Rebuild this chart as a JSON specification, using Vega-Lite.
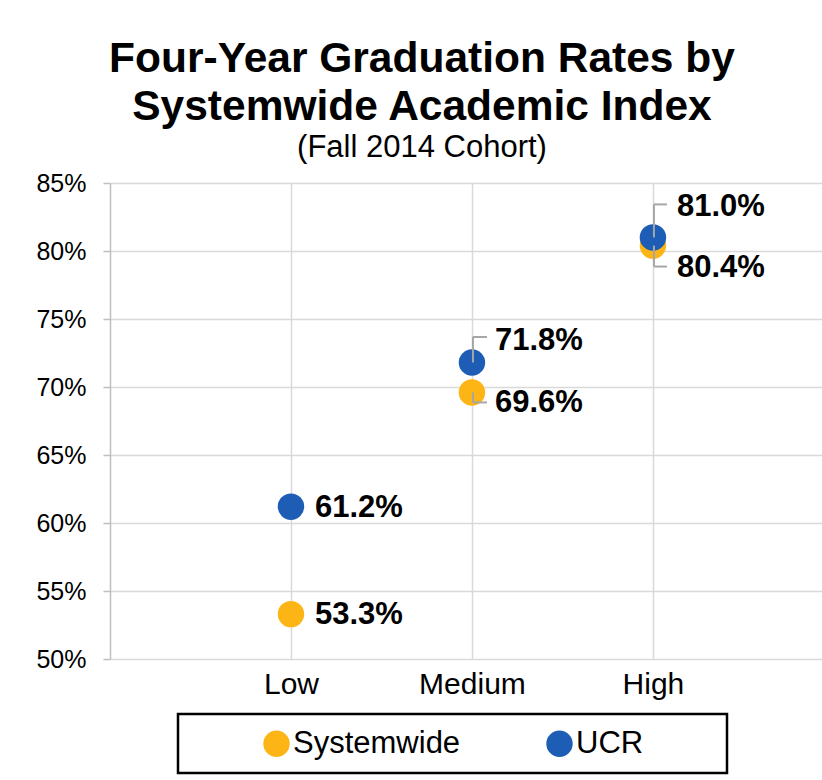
{
  "$schema": "https://vega.github.io/schema/vega-lite/v6.json",
  "autosize": {"type": "none"},
  "padding": {"left": 110, "top": 183, "right": 0, "bottom": 121},
  "width": 712,
  "height": 476,
  "background": "white",
  "config": {
    "view": {"stroke": null},
    "font": "Liberation Sans",
    "legend": {"strokeWidth": 2.5}
  },
  "title": {
    "text": ["Four-Year Graduation Rates by", "Systemwide Academic Index"],
    "subtitle": "(Fall 2014 Cohort)",
    "font": "Liberation Sans",
    "fontSize": 42.5,
    "fontWeight": "bold",
    "lineHeight": 48,
    "color": "black",
    "subtitleFont": "Liberation Sans",
    "subtitleFontSize": 31,
    "subtitleColor": "black",
    "subtitlePadding": 5,
    "anchor": "middle",
    "frame": "group",
    "dx": -44,
    "offset": 8
  },
  "data": {
    "values": [
      {"level": "Low", "series": "Systemwide", "rate": 0.533},
      {"level": "Medium", "series": "Systemwide", "rate": 0.696},
      {"level": "High", "series": "Systemwide", "rate": 0.804},
      {"level": "Low", "series": "UCR", "rate": 0.612},
      {"level": "Medium", "series": "UCR", "rate": 0.718},
      {"level": "High", "series": "UCR", "rate": 0.810}
    ]
  },
  "encoding": {
    "x": {
      "field": "level",
      "type": "ordinal",
      "sort": ["Low", "Medium", "High"],
      "scale": {"type": "point", "padding": 0.967, "align": 0.517},
      "axis": {
        "title": null,
        "labelAngle": 0,
        "grid": true,
        "gridColor": "#d9d9d9",
        "gridWidth": 1.5,
        "domain": false,
        "ticks": false,
        "labelFontSize": 30,
        "labelColor": "black",
        "labelPadding": 10
      }
    },
    "y": {
      "field": "rate",
      "type": "quantitative",
      "scale": {"domain": [0.5, 0.85], "nice": false, "zero": false},
      "axis": {
        "title": null,
        "values": [0.5, 0.55, 0.6, 0.65, 0.7, 0.75, 0.8, 0.85],
        "format": ".0%",
        "grid": true,
        "gridColor": "#d9d9d9",
        "gridWidth": 1.5,
        "domain": true,
        "domainColor": "#bfbfbf",
        "domainWidth": 1.5,
        "ticks": true,
        "tickSize": 7,
        "tickColor": "#bfbfbf",
        "tickWidth": 1.5,
        "labelFontSize": 25,
        "labelColor": "black",
        "labelPadding": 17
      }
    }
  },
  "layer": [
    {
      "mark": {"type": "point", "filled": true, "size": 700, "opacity": 1},
      "encoding": {
        "color": {
          "field": "series",
          "type": "nominal",
          "scale": {"domain": ["Systemwide", "UCR"], "range": ["#FDB515", "#1D5DB5"]},
          "legend": {
            "orient": "none",
            "legendX": 68,
            "legendY": 531,
            "direction": "horizontal",
            "title": "\u00a0",
            "titleOrient": "left",
            "titleFontSize": 10,
            "titlePadding": 69,
            "strokeColor": "black",
            "padding": 14,
            "symbolType": "circle",
            "symbolSize": 700,
            "symbolStrokeWidth": 0,
            "labelFontSize": 31,
            "labelColor": "black",
            "labelOffset": 1,
            "labelLimit": 400,
            "columnPadding": 83,
            "labelExpr": "datum.label == 'UCR' ? 'UCR\u00a0\u00a0\u00a0\u00a0\u00a0\u00a0\u00a0\u00a0\u200b' : datum.label"
          }
        }
      }
    },
    {
      "transform": [{"filter": "datum.level == 'Medium' && datum.series == 'UCR'"}],
      "mark": {"type": "rule", "color": "#a6a6a6", "strokeWidth": 2, "xOffset": 1, "y2Offset": -25.5},
      "encoding": {"y2": {"field": "rate"}}
    },
    {
      "transform": [{"filter": "datum.level == 'Medium' && datum.series == 'UCR'"}],
      "mark": {"type": "rule", "color": "#a6a6a6", "strokeWidth": 2, "xOffset": 1, "x2Offset": 15, "yOffset": -25.5},
      "encoding": {"x2": {"field": "level"}}
    },
    {
      "transform": [{"filter": "datum.level == 'Medium' && datum.series == 'Systemwide'"}],
      "mark": {"type": "rule", "color": "#a6a6a6", "strokeWidth": 2, "xOffset": 1, "y2Offset": 10},
      "encoding": {"y2": {"field": "rate"}}
    },
    {
      "transform": [{"filter": "datum.level == 'Medium' && datum.series == 'Systemwide'"}],
      "mark": {"type": "rule", "color": "#a6a6a6", "strokeWidth": 2, "xOffset": 1, "x2Offset": 15, "yOffset": 10},
      "encoding": {"x2": {"field": "level"}}
    },
    {
      "transform": [{"filter": "datum.level == 'High' && datum.series == 'UCR'"}],
      "mark": {"type": "rule", "color": "#a6a6a6", "strokeWidth": 2, "xOffset": 1, "y2Offset": -33},
      "encoding": {"y2": {"field": "rate"}}
    },
    {
      "transform": [{"filter": "datum.level == 'High' && datum.series == 'UCR'"}],
      "mark": {"type": "rule", "color": "#a6a6a6", "strokeWidth": 2, "xOffset": 1, "x2Offset": 14, "yOffset": -33},
      "encoding": {"x2": {"field": "level"}}
    },
    {
      "transform": [{"filter": "datum.level == 'High' && datum.series == 'Systemwide'"}],
      "mark": {"type": "rule", "color": "#a6a6a6", "strokeWidth": 2, "xOffset": 1, "y2Offset": 21},
      "encoding": {"y2": {"field": "rate"}}
    },
    {
      "transform": [{"filter": "datum.level == 'High' && datum.series == 'Systemwide'"}],
      "mark": {"type": "rule", "color": "#a6a6a6", "strokeWidth": 2, "xOffset": 1, "x2Offset": 14, "yOffset": 21},
      "encoding": {"x2": {"field": "level"}}
    },
    {
      "transform": [{"filter": "datum.level == 'Low'"}],
      "mark": {"type": "text", "align": "left", "baseline": "middle", "dx": 24, "dy": 1, "fontSize": 31, "fontWeight": "bold", "color": "black"},
      "encoding": {"text": {"field": "rate", "type": "quantitative", "format": ".1%"}}
    },
    {
      "transform": [{"filter": "datum.level == 'Medium' && datum.series == 'UCR'"}],
      "mark": {"type": "text", "align": "left", "baseline": "middle", "dx": 23, "dy": -22, "fontSize": 31, "fontWeight": "bold", "color": "black"},
      "encoding": {"text": {"field": "rate", "type": "quantitative", "format": ".1%"}}
    },
    {
      "transform": [{"filter": "datum.level == 'Medium' && datum.series == 'Systemwide'"}],
      "mark": {"type": "text", "align": "left", "baseline": "middle", "dx": 23, "dy": 11, "fontSize": 31, "fontWeight": "bold", "color": "black"},
      "encoding": {"text": {"field": "rate", "type": "quantitative", "format": ".1%"}}
    },
    {
      "transform": [{"filter": "datum.level == 'High' && datum.series == 'UCR'"}],
      "mark": {"type": "text", "align": "left", "baseline": "middle", "dx": 24, "dy": -30, "fontSize": 31, "fontWeight": "bold", "color": "black"},
      "encoding": {"text": {"field": "rate", "type": "quantitative", "format": ".1%"}}
    },
    {
      "transform": [{"filter": "datum.level == 'High' && datum.series == 'Systemwide'"}],
      "mark": {"type": "text", "align": "left", "baseline": "middle", "dx": 24, "dy": 22, "fontSize": 31, "fontWeight": "bold", "color": "black"},
      "encoding": {"text": {"field": "rate", "type": "quantitative", "format": ".1%"}}
    }
  ]
}
